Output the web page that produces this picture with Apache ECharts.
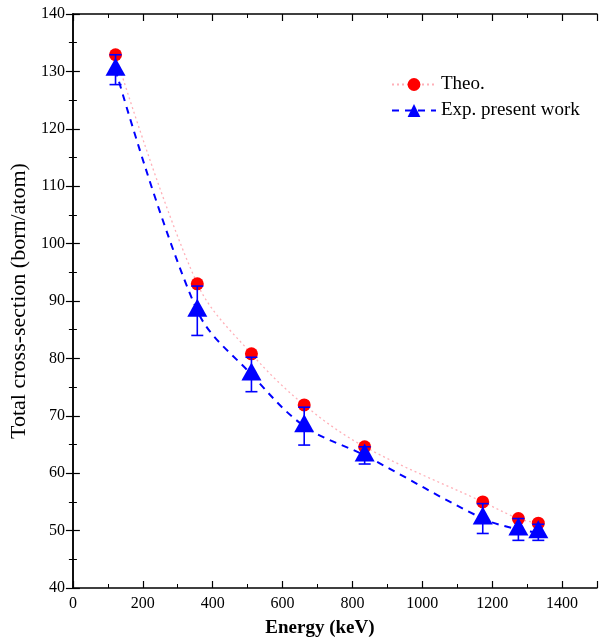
<!DOCTYPE html>
<html>
<head>
<meta charset="utf-8">
<script src="https://cdn.jsdelivr.net/npm/echarts@6/dist/echarts.min.js"></script>
<style>html,body{margin:0;padding:0;background:#fff}#c{width:603px;height:643px}</style>
</head>
<body>
<div id="c"></div>
<script>
const energies = [122, 356, 511, 662, 835, 1173, 1275, 1332];
const theo = [132.9, 93.0, 80.8, 71.9, 64.6, 55.0, 52.1, 51.3];
const expVals = [130.3, 88.3, 77.2, 68.2, 63.1, 52.1, 50.2, 49.7];
const expErr = [2.6, 4.3, 3.0, 3.3, 1.5, 2.6, 1.9, 1.4];

const serif = 'Liberation Serif, Times New Roman, serif';
const chart = echarts.init(document.getElementById('c'));
const theoData = energies.map((e, i) => [e, theo[i]]);
const expData = energies.map((e, i) => [e, expVals[i]]);
const errData = energies.map((e, i) => [e, expVals[i] - expErr[i], expVals[i] + expErr[i]]);

const axisCommon = {
  axisLine: {show: true, lineStyle: {color: '#000', width: 1.5}},
  axisTick: {show: true, inside: true, length: 7, lineStyle: {color: '#000', width: 1.2}},
  minorTick: {show: true, splitNumber: 2, length: 4, lineStyle: {color: '#000', width: 1}},
  splitLine: {show: false}
};

chart.setOption({
  animation: false,
  grid: [{left: 72, right: 6, top: 14, bottom: 55}],
  legend: {
    data: ['Theo.', 'Exp. present work'],
    orient: 'vertical',
    left: 386, top: 70,
    itemWidth: 44, itemHeight: 16, itemGap: 7,
    textStyle: {fontFamily: serif, fontSize: 19, color: '#000'}
  },
  xAxis: [
    Object.assign({type: 'value', min: 0, max: 1500, interval: 200, position: 'bottom',
      axisLabel: {fontFamily: serif, fontSize: 16, color: '#000', margin: 8,
        formatter: v => (v > 1400 ? '' : v)},
      name: 'Energy (keV)', nameLocation: 'middle', nameGap: 31,
      nameTextStyle: {fontFamily: serif, fontSize: 19, fontWeight: 'bold', color: '#000',
        padding: [0, 30, 0, 0]}
    }, axisCommon),
    Object.assign({type: 'value', min: 0, max: 1500, interval: 200, position: 'top', axisLabel: {show: false}}, axisCommon)
  ],
  yAxis: [
    Object.assign({type: 'value', min: 40, max: 140, interval: 10, position: 'left',
      axisLabel: {fontFamily: serif, fontSize: 16, color: '#000', margin: 8},
      name: 'Total cross-section (born/atom)', nameLocation: 'middle', nameGap: 35,
      nameTextStyle: {fontFamily: serif, fontSize: 22, color: '#000'}
    }, axisCommon),
    Object.assign({type: 'value', min: 40, max: 140, interval: 10, position: 'right', axisLabel: {show: false}}, axisCommon)
  ],
  series: [
    {
      name: 'Theo.', type: 'line', data: theoData, smooth: 0.35,
      symbol: 'circle', symbolSize: 13,
      itemStyle: {color: '#ff0000'},
      lineStyle: {color: '#ffb0b8', width: 1.3, type: [2, 3]},
      z: 2
    },
    {
      name: 'Exp. present work', type: 'line', data: expData, smooth: 0.35,
      symbol: 'triangle', symbolSize: [20, 18], symbolOffset: [0, -3],
      itemStyle: {color: '#0000ff'},
      lineStyle: {color: '#0000ff', width: 2, type: [7, 6]},
      z: 3
    },
    {
      name: 'err', type: 'custom', data: errData, z: 4,
      renderItem: function (params, api) {
        const x = api.value(0);
        const lo = api.coord([x, api.value(1)]);
        const hi = api.coord([x, api.value(2)]);
        const hw = 6;
        const st = {stroke: '#0000ff', lineWidth: 1.6};
        return {type: 'group', children: [
          {type: 'line', shape: {x1: lo[0], y1: lo[1], x2: hi[0], y2: hi[1]}, style: st},
          {type: 'line', shape: {x1: lo[0] - hw, y1: lo[1], x2: lo[0] + hw, y2: lo[1]}, style: st},
          {type: 'line', shape: {x1: hi[0] - hw, y1: hi[1], x2: hi[0] + hw, y2: hi[1]}, style: st}
        ]};
      }
    }
  ]
});
</script>
</body>
</html>
